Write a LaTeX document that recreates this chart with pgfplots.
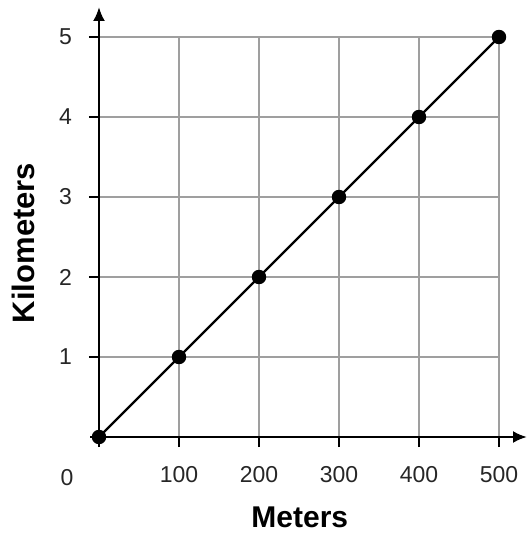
\documentclass[border=0pt]{standalone}
\usepackage{pgfplots}
\pgfplotsset{compat=1.18}
\usepackage{fontspec}
\setmainfont{Liberation Sans}
\usetikzlibrary{arrows.meta}

\begin{document}
\begin{tikzpicture}
\begin{axis}[
    x=0.4pt, y=40pt,
    xmin=0, xmax=500,
    ymin=0, ymax=5,
    axis line style={draw=none},
    grid=major,
    grid style={gray!75, line width=0.85pt},
    xtick={100,200,300,400,500},
    ytick={1,2,3,4,5},
    xtick pos=bottom, ytick pos=left,
    tick align=outside,
    major tick length=5pt,
    tick style={black, line width=0.9pt},
    tick label style={font=\fontsize{11.5}{13}\selectfont, text=black!85},
    /pgf/number format/assume math mode=true,
    xticklabel style={anchor=base, yshift=-17.5pt},
    yticklabel style={xshift=-5pt},
    xlabel={Meters},
    ylabel={Kilometers},
    every axis x label/.style={at={(axis description cs:0.502,-0.202)}, anchor=center,
        font=\fontsize{15}{17}\selectfont\bfseries},
    every axis y label/.style={at={(axis description cs:-0.19,0.485)}, anchor=center, rotate=90,
        font=\fontsize{15.5}{17}\selectfont\bfseries},
    clip=false,
]
    \path (axis cs:-123.75,-1.275) rectangle (axis cs:536.25,5.4625);
    \draw[black, line width=1.2pt, -{Latex[length=7pt,width=6pt]}] (axis cs:-11,0) -- (axis cs:535,0);
    \draw[black, line width=1.2pt, -{Latex[length=7pt,width=6pt]}] (axis cs:0,-0.125) -- (axis cs:0,5.375);
    \node[font=\fontsize{11.5}{13}\selectfont, text=black!85, anchor=base] at (axis cs:-40,-0.6) {0};
    \addplot[black, line width=1.2pt, mark=*, mark size=3pt] coordinates {
        (0,0) (100,1) (200,2) (300,3) (400,4) (500,5)
    };
\end{axis}
\end{tikzpicture}
\end{document}
